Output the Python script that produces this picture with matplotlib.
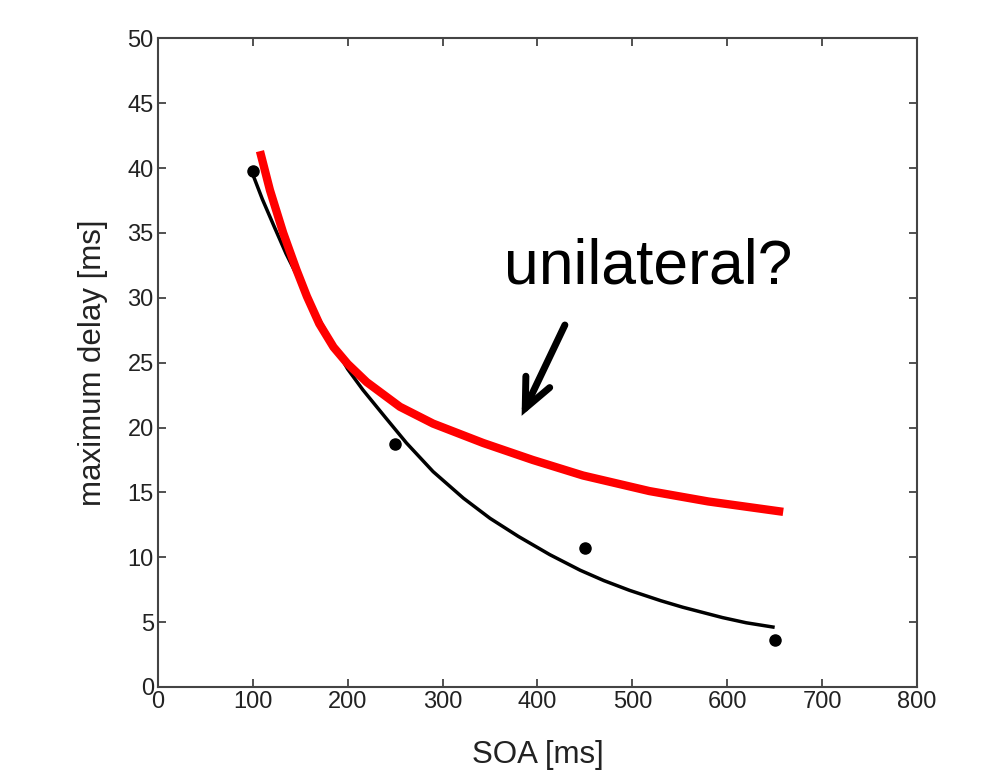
import matplotlib
matplotlib.use("Agg")
import matplotlib.pyplot as plt

plt.rcParams['font.family'] = ['Liberation Sans', 'DejaVu Sans']

# measured data points
soa_pts = [100, 250, 450, 650]
delay_pts = [39.8, 18.7, 10.7, 3.6]

# black fit curve
fit_x = [100, 110, 123, 135, 150, 165, 180, 200, 216, 240, 262, 290, 322, 350,
         380, 413, 445, 470, 497, 530, 553, 595, 620, 650]
fit_y = [39.5, 37.6, 35.4, 33.4, 31.2, 29.0, 27.0, 24.5, 22.9, 20.75, 18.8, 16.6,
         14.55, 13.0, 11.6, 10.2, 9.0, 8.2, 7.45, 6.65, 6.15, 5.35, 4.95, 4.6]

# red "unilateral?" curve
red_x = [107.5, 118, 132, 146, 157, 170, 185, 200, 220, 255, 290, 343, 395, 448,
         518, 580, 659]
red_y = [41.3, 38.3, 35.0, 32.15, 30.1, 28.0, 26.2, 24.9, 23.5, 21.6, 20.3, 18.8,
         17.5, 16.3, 15.1, 14.3, 13.5]

x_ticks = [0, 100, 200, 300, 400, 500, 600, 700, 800]
y_ticks = [0, 5, 10, 15, 20, 25, 30, 35, 40, 45, 50]

fig = plt.figure(figsize=(9.91, 7.70), dpi=100)
ax = fig.add_axes([0.1594, 0.1078, 0.7659, 0.8425])

ax.plot(fit_x, fit_y, color='black', lw=2.5, solid_capstyle='butt', solid_joinstyle='round')
ax.plot(soa_pts, delay_pts, 'o', color='black', ms=8)
ax.plot(red_x, red_y, color='#ff0000', lw=6, solid_capstyle='butt', solid_joinstyle='round')

ax.text(517, 31.1, 'unilateral?', fontsize=45, ha='center', va='baseline', color='black')
ax.annotate('', xy=(383.3, 20.9), xytext=(428.9, 27.9),
            arrowprops=dict(arrowstyle='->,head_length=2.1,head_width=0.95', lw=5,
                            color='black', shrinkA=0, shrinkB=0,
                            capstyle='round', joinstyle='miter'))

ax.set_xlim(0, 800)
ax.set_ylim(0, 50)
ax.set_xticks(x_ticks)
ax.set_yticks(y_ticks)
ax.tick_params(direction='in', top=True, right=True, length=6, width=1.2,
               labelsize=17, colors='#333333', labelcolor='#222222', pad=3)
for s in ax.spines.values():
    s.set_color('#444444')
    s.set_linewidth(1.5)

ax.set_xlabel('SOA [ms]', fontsize=22.5, color='#222222', labelpad=19)
ax.set_ylabel('maximum delay [ms]', fontsize=22.5, color='#222222', labelpad=14)

fig.savefig('out.png', dpi=100, facecolor='white')
